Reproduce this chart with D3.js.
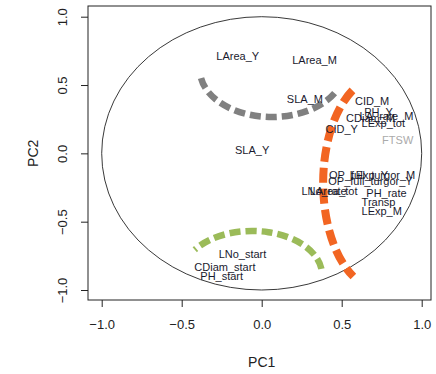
<!DOCTYPE html>
<html>
<head>
<meta charset="utf-8">
<script src="https://cdn.jsdelivr.net/npm/d3@7"></script>
<style>
  body { margin: 0; background: #fff; }
  text { font-family: "Liberation Sans", Arial, sans-serif; }
</style>
</head>
<body>
<svg id="chart" width="436" height="374"></svg>
<script>
// variable labels and their loadings on PC1 / PC2
const labels = ["LArea_Y", "LArea_M", "SLA_M", "CID_M", "CDiam_M", "PH_Y", "LA_rate_M",
  "LExp_tot", "CID_Y", "FTSW", "SLA_Y", "LExp_Y", "OP_full_turgor_M", "OP_full_turgor_Y",
  "LNo_rate", "LArea_tot", "PH_rate", "Transp", "LExp_M", "LNo_start", "CDiam_start", "PH_start"];
const pc1 = [-0.15, 0.33, 0.27, 0.69, 0.68, 0.73, 0.78,
  0.76, 0.50, 0.85, -0.06, 0.67, 0.69, 0.68,
  0.39, 0.45, 0.78, 0.73, 0.75, -0.12, -0.23, -0.25];
const pc2 = [0.71, 0.68, 0.40, 0.38, 0.26, 0.30, 0.27,
  0.22, 0.18, 0.10, 0.02, -0.16, -0.16, -0.20,
  -0.28, -0.28, -0.29, -0.36, -0.42, -0.74, -0.83, -0.90];
const labelColor = ["#1a1a2e", "#1a1a2e", "#1a1a2e", "#1a1a2e", "#1a1a2e", "#1a1a2e", "#1a1a2e",
  "#1a1a2e", "#1a1a2e", "#aaaaaa", "#1a1a2e", "#1a1a2e", "#1a1a2e", "#1a1a2e",
  "#1a1a2e", "#1a1a2e", "#1a1a2e", "#1a1a2e", "#1a1a2e", "#1a1a2e", "#1a1a2e", "#1a1a2e"];

const tickValues = [-1.0, -0.5, 0.0, 0.5, 1.0];

// dashed group arcs: centre, radii (PC units), start/end angle (degrees)
const arcNames = ["grey", "orange", "green"];
const arcCx = [0.064, 0.74, -0.06];
const arcCy = [0.61, -0.217, -0.89];
const arcRx = [0.45, 0.356, 0.4375];
const arcRy = [0.344, 0.775, 0.322];
const arcStart = [-170, 119, 8];
const arcEnd = [-25, 242, 145];
const arcColor = ["#808080", "#f26522", "#9bbb59"];

const svg = d3.select("#chart");
const plotLeft = 88, plotRight = 431, plotTop = 6, plotBottom = 300;

const x = d3.scaleLinear().domain([-1, 1]).range([101.7, 421.7]);
const y = d3.scaleLinear().domain([-1, 1]).range([290, 16.7]);

// unit circle
svg.append("ellipse")
  .attr("cx", x(0))
  .attr("cy", y(0))
  .attr("rx", x(1) - x(0))
  .attr("ry", y(0) - y(1))
  .style("fill", "none")
  .style("stroke", "#222")
  .style("stroke-width", 0.9);

// arcs
const arcStyle = {
  grey: { width: 6.5, dash: "11,5" },
  orange: { width: 8, dash: "15,6" },
  green: { width: 6.5, dash: "11,5" },
};
arcNames.forEach((name, i) => {
  const rad = Math.PI / 180;
  const a0 = arcStart[i] * rad, a1 = arcEnd[i] * rad;
  const p0 = [x(arcCx[i] + arcRx[i] * Math.cos(a0)), y(arcCy[i] + arcRy[i] * Math.sin(a0))];
  const p1 = [x(arcCx[i] + arcRx[i] * Math.cos(a1)), y(arcCy[i] + arcRy[i] * Math.sin(a1))];
  const rxPx = x(arcRx[i]) - x(0);
  const ryPx = y(0) - y(arcRy[i]);
  const large = Math.abs(arcEnd[i] - arcStart[i]) > 180 ? 1 : 0;
  // angles grow counter-clockwise in data space, which is sweep 0 on screen
  const d = "M" + p0[0] + "," + p0[1] + " A" + rxPx + "," + ryPx + " 0 " + large + " 0 " + p1[0] + "," + p1[1];
  svg.append("path")
    .attr("d", d)
    .style("fill", "none")
    .style("stroke", arcColor[i])
    .style("stroke-width", arcStyle[name].width)
    .style("stroke-dasharray", arcStyle[name].dash);
});

// variable labels
svg.append("g")
  .selectAll("text")
  .data(labels)
  .join("text")
  .attr("x", (d, i) => x(pc1[i]))
  .attr("y", (d, i) => y(pc2[i]))
  .attr("dy", "0.35em")
  .attr("text-anchor", "middle")
  .style("font-size", "11px")
  .style("fill", (d, i) => labelColor[i])
  .text(d => d);

// frame
svg.append("rect")
  .attr("x", plotLeft)
  .attr("y", plotTop)
  .attr("width", plotRight - plotLeft)
  .attr("height", plotBottom - plotTop)
  .style("fill", "none")
  .style("stroke", "#222")
  .style("stroke-width", 1);

// axes
const xAxis = svg.append("g")
  .attr("transform", "translate(0," + plotBottom + ")")
  .call(d3.axisBottom(x).tickValues(tickValues).tickFormat(d3.format(".1f")).tickSize(7).tickPadding(13));
const yAxis = svg.append("g")
  .attr("transform", "translate(" + plotLeft + ",0)")
  .call(d3.axisLeft(y).tickValues(tickValues).tickFormat(d3.format(".1f")).tickSize(7).tickPadding(12));

[xAxis, yAxis].forEach(g => {
  g.select(".domain").remove();
  g.selectAll(".tick line").style("stroke", "#222");
  g.selectAll(".tick text")
    .style("font-size", "13px")
    .style("font-family", "'Liberation Sans', Arial, sans-serif")
    .style("fill", "#222");
});
yAxis.selectAll(".tick text")
  .attr("x", null)
  .attr("dy", null)
  .attr("text-anchor", "middle")
  .attr("transform", d => "translate(-21," + y(d) + ") rotate(-90)")
  .attr("y", 0)
  .each(function () { d3.select(this).attr("transform", "translate(-21,0) rotate(-90)"); });

// axis titles
svg.append("text")
  .attr("x", x(0))
  .attr("y", 367)
  .attr("text-anchor", "middle")
  .style("font-size", "14px")
  .style("fill", "#222")
  .text("PC1");
svg.append("text")
  .attr("transform", "translate(33," + y(0) + ") rotate(-90)")
  .attr("text-anchor", "middle")
  .attr("dy", "0.35em")
  .style("font-size", "14px")
  .style("fill", "#222")
  .text("PC2");
</script>
</body>
</html>
